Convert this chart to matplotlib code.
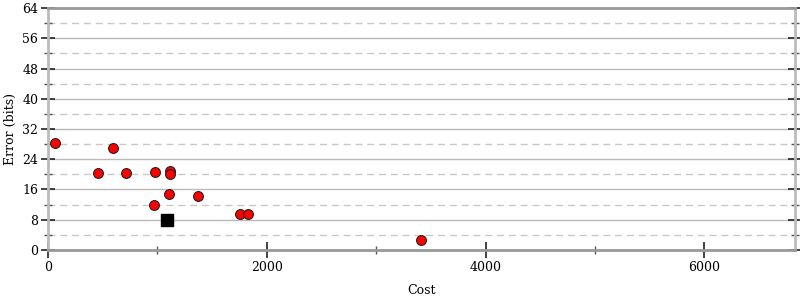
import matplotlib
matplotlib.use('Agg')
import matplotlib.pyplot as plt
from matplotlib.ticker import MultipleLocator

# Data
cost = [64, 597, 460, 715, 977, 1114, 1114, 1108, 971, 1367, 1756, 1824, 3406]
error = [28.4, 27.1, 20.3, 20.3, 20.6, 20.8, 20.2, 14.9, 12.0, 14.2, 9.4, 9.4, 2.6]
best_cost = [1087]
best_error = [7.85]

plt.rcParams['font.family'] = 'DejaVu Serif'

fig = plt.figure(figsize=(8, 3), dpi=100)
ax = fig.add_axes([0.06, 0.167, 0.934, 0.806])

ax.set_xlim(0, 6830)
ax.set_ylim(0, 64)

# Grid: solid major, dashed minor
ax.yaxis.set_major_locator(MultipleLocator(8))
ax.yaxis.set_minor_locator(MultipleLocator(4))
ax.xaxis.set_major_locator(MultipleLocator(2000))
ax.xaxis.set_minor_locator(MultipleLocator(1000))
ax.grid(True, axis='y', which='major', color='#bbbbbb', linewidth=1)
ax.grid(True, axis='y', which='minor', color='#c8c8c8', linewidth=1, linestyle=(0, (5, 3.5)))
ax.set_axisbelow(True)

for side in ['left', 'right']:
    ax.spines[side].set_color('#bbbbbb')
    ax.spines[side].set_linewidth(2)
for side in ['top', 'bottom']:
    ax.spines[side].set_color('#999999')
    ax.spines[side].set_linewidth(2)

ax.tick_params(axis='y', which='major', direction='inout', length=10, width=1.2,
               color='#222222', right=True, labelsize=9, pad=2)
ax.tick_params(axis='y', which='minor', direction='inout', length=6, width=1,
               color='#555555', right=True)
ax.tick_params(axis='x', which='major', direction='inout', length=12, width=1.2,
               color='#222222', labelsize=9, pad=2)
ax.tick_params(axis='x', which='minor', direction='inout', length=6, width=1,
               color='#555555')

ax.scatter(cost, error, s=50, color='#ff0000', edgecolors='#222222', linewidths=0.8, zorder=3)
ax.scatter(best_cost, best_error, s=65, marker='s', color='black', zorder=3)

ax.set_xlabel('Cost', fontsize=9, labelpad=7)
ax.set_ylabel('Error (bits)', fontsize=9, labelpad=4)

fig.savefig('out.png', dpi=100)
